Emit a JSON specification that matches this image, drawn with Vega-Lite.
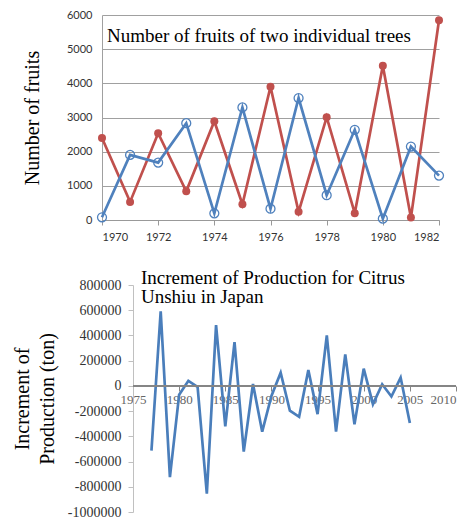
{
  "$schema": "https://vega.github.io/schema/vega-lite/v6.json",
  "background": "white",
  "padding": {"left": 12, "top": 9, "right": 5, "bottom": 0},
  "spacing": 27,
  "config": {"view": {"stroke": null}, "font": "Liberation Serif"},
  "vconcat": [
    {
      "width": 337,
      "height": 205,
      "title": {"text": "Number of fruits of two individual trees", "anchor": "start", "frame": "group", "offset": -37, "dx": 5, "font": "Liberation Serif", "fontSize": 19, "fontWeight": "normal", "color": "black"},
      "data": {"values": [
        {"year": 1970, "tree": "A", "fruits": 2400}, {"year": 1971, "tree": "A", "fruits": 530}, {"year": 1972, "tree": "A", "fruits": 2540}, {"year": 1973, "tree": "A", "fruits": 840}, {"year": 1974, "tree": "A", "fruits": 2890}, {"year": 1975, "tree": "A", "fruits": 460}, {"year": 1976, "tree": "A", "fruits": 3900}, {"year": 1977, "tree": "A", "fruits": 240}, {"year": 1978, "tree": "A", "fruits": 3010}, {"year": 1979, "tree": "A", "fruits": 200}, {"year": 1980, "tree": "A", "fruits": 4515}, {"year": 1981, "tree": "A", "fruits": 70}, {"year": 1982, "tree": "A", "fruits": 5845},
        {"year": 1970, "tree": "B", "fruits": 80}, {"year": 1971, "tree": "B", "fruits": 1905}, {"year": 1972, "tree": "B", "fruits": 1680}, {"year": 1973, "tree": "B", "fruits": 2835}, {"year": 1974, "tree": "B", "fruits": 195}, {"year": 1975, "tree": "B", "fruits": 3295}, {"year": 1976, "tree": "B", "fruits": 330}, {"year": 1977, "tree": "B", "fruits": 3570}, {"year": 1978, "tree": "B", "fruits": 725}, {"year": 1979, "tree": "B", "fruits": 2640}, {"year": 1980, "tree": "B", "fruits": 40}, {"year": 1981, "tree": "B", "fruits": 2150}, {"year": 1982, "tree": "B", "fruits": 1300}
      ]},
      "encoding": {
        "x": {"field": "year", "type": "quantitative", "scale": {"domain": [1970, 1982], "nice": false, "zero": false},
          "axis": {"values": [1970, 1972, 1974, 1976, 1978, 1980, 1982], "format": "d", "title": null, "grid": false, "labelFont": "Lato", "labelFontSize": 11, "labelColor": "#333333", "domainColor": "#999999", "tickColor": "#999999", "tickSize": 5, "labelPadding": 6}},
        "y": {"field": "fruits", "type": "quantitative", "scale": {"domain": [0, 6000], "nice": false},
          "axis": {"values": [0, 1000, 2000, 3000, 4000, 5000, 6000], "format": "d", "title": "Number of fruits", "titleFont": "Liberation Serif", "titleFontSize": 20, "titleFontWeight": "normal", "titleColor": "black", "titlePadding": 24, "grid": true, "gridColor": "#a0a0a0", "ticks": false, "labelPadding": 10, "domainColor": "#a0a0a0", "labelFont": "Lato", "labelFontSize": 11, "labelColor": "#333333"}}
      },
      "layer": [
        {"mark": {"type": "line", "strokeWidth": 2.7}, "encoding": {"color": {"field": "tree", "type": "nominal", "scale": {"domain": ["A", "B"], "range": ["#C0504D", "#4F81BD"]}, "legend": null}}},
        {"transform": [{"filter": "datum.tree == 'A'"}], "mark": {"type": "point", "filled": true, "size": 64, "color": "#C0504D", "opacity": 1}},
        {"transform": [{"filter": "datum.tree == 'B'"}], "mark": {"type": "point", "filled": false, "size": 80, "color": "#4F81BD", "strokeWidth": 1.3, "opacity": 1}}
      ]
    },
    {
      "width": 354,
      "height": 227,
      "title": {"text": ["Increment of Production for Citrus", "Unshiu  in Japan"], "anchor": "start", "frame": "group", "offset": -29, "dx": 39, "font": "Liberation Serif", "fontSize": 19, "fontWeight": "normal", "color": "black", "lineHeight": 19},
      "data": {"values": [
        {"year": 1977, "inc": -513000}, {"year": 1978, "inc": 592000}, {"year": 1979, "inc": -724000}, {"year": 1980, "inc": -70000}, {"year": 1981, "inc": 40000}, {"year": 1982, "inc": -8000}, {"year": 1983, "inc": -855000}, {"year": 1984, "inc": 482000}, {"year": 1985, "inc": -321000}, {"year": 1986, "inc": 347000}, {"year": 1987, "inc": -521000}, {"year": 1988, "inc": 15000}, {"year": 1989, "inc": -363000}, {"year": 1990, "inc": -80000}, {"year": 1991, "inc": 105000}, {"year": 1992, "inc": -197000}, {"year": 1993, "inc": -245000}, {"year": 1994, "inc": 126000}, {"year": 1995, "inc": -224000}, {"year": 1996, "inc": 400000}, {"year": 1997, "inc": -363000}, {"year": 1998, "inc": 250000}, {"year": 1999, "inc": -305000}, {"year": 2000, "inc": 137000}, {"year": 2001, "inc": -145000}, {"year": 2002, "inc": 13000}, {"year": 2003, "inc": -84000}, {"year": 2004, "inc": 66000}, {"year": 2005, "inc": -295000}
      ]},
      "layer": [
        {"mark": {"type": "line", "strokeWidth": 2.7, "color": "#4A7EBB"},
          "encoding": {
            "x": {"field": "year", "type": "quantitative", "scale": {"domain": [1971.64, 2010], "nice": false, "zero": false},
              "axis": {"values": [1975, 1980, 1985, 1990, 1995, 2000, 2005, 2010], "format": "d", "title": null, "grid": false, "domain": false, "ticks": true, "tickSize": 5, "tickColor": "#868686", "offset": -126, "labelFont": "Liberation Serif", "labelFontSize": 13, "labelColor": "#666666", "labelPadding": 2, "labelOverlap": false}},
            "y": {"field": "inc", "type": "quantitative", "scale": {"domain": [-1000000, 800000], "nice": false, "zero": false},
              "axis": {"values": [-1000000, -800000, -600000, -400000, -200000, 0, 200000, 400000, 600000, 800000], "labelExpr": "'' + datum.value", "labelOverlap": false, "offset": -31, "grid": false, "domainColor": "#c0c0c0", "tickColor": "#c0c0c0", "tickSize": 5, "labelPadding": 7, "labelFont": "Liberation Serif", "labelFontSize": 14, "labelColor": "#333333", "title": ["Increment of", "Production (ton)"], "titleFont": "Liberation Serif", "titleFontSize": 20, "titleFontWeight": "normal", "titleColor": "black", "titleLineHeight": 25, "titlePadding": 10}}
          }},
        {"mark": {"type": "rule", "color": "#868686", "strokeWidth": 1},
          "encoding": {
            "x": {"datum": 1975, "type": "quantitative",
              "axis": {"values": [1975, 1980, 1985, 1990, 1995, 2000, 2005, 2010], "format": "d", "title": null, "grid": false, "domain": false, "ticks": true, "tickSize": 5, "tickColor": "#868686", "offset": -126, "labelFont": "Liberation Serif", "labelFontSize": 13, "labelColor": "#666666", "labelPadding": 2, "labelOverlap": false}},
            "x2": {"datum": 2010},
            "y": {"datum": 0, "type": "quantitative",
              "axis": {"values": [-1000000, -800000, -600000, -400000, -200000, 0, 200000, 400000, 600000, 800000], "labelExpr": "'' + datum.value", "labelOverlap": false, "offset": -31, "grid": false, "domainColor": "#c0c0c0", "tickColor": "#c0c0c0", "tickSize": 5, "labelPadding": 7, "labelFont": "Liberation Serif", "labelFontSize": 14, "labelColor": "#333333", "title": ["Increment of", "Production (ton)"], "titleFont": "Liberation Serif", "titleFontSize": 20, "titleFontWeight": "normal", "titleColor": "black", "titleLineHeight": 25, "titlePadding": 10}}}}
      ]
    }
  ]
}
